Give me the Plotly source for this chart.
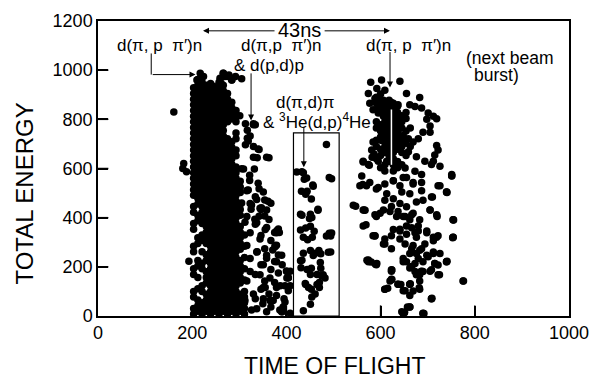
import plotly.graph_objects as go

# ---------------- data ----------------
# dense main peak: columns of time-of-flight with energies
core_x = [203, 212, 221, 230, 239, 248, 257, 266, 275, 284, 293, 302, 311]
core_y = [
    [8,31,77,100,169,192,261,284,353,376,422,445,491,514,537,560,583,606,629,652,675,698,721,744,767,790,813,836,859,882,905,928],
    [19,42,65,111,157,203,226,295,318,387,410,456,479,502,525,548,571,594,617,640,663,686,709,732,755,778,801,824,847,870,893,916,939,962],
    [8,31,54,100,123,192,215,261,307,330,376,399,422,445,468,491,514,537,560,583,606,629,652,675,698,721,744,767,790,813,836,859,882,905,928,951,974],
    [19,42,65,88,134,157,180,226,249,295,318,341,364,387,410,433,456,479,502,525,548,571,594,617,640,663,686,709,732,755,778,801,824,847,870,893,916,939],
    [8,31,54,77,100,123,146,169,192,215,238,261,284,307,330,353,376,399,422,445,468,491,514,537,560,583,606,629,652,675,698,721,744,767,790,813,836,859,882,905,928,946],
    [19,42,65,88,111,134,157,180,203,226,249,272,295,318,341,364,387,410,433,456,479,502,525,548,571,594,617,640,663,686,709,732,755,778,801,824,847,870,893,916],
    [8,31,54,77,100,123,146,169,192,215,238,261,284,307,330,353,376,399,422,445,468,491,514,537,560,583,606,629,652,675,698,721,744,767,790,813,836,859,882,905,928,951],
    [19,42,65,88,111,134,157,180,203,226,249,272,295,318,341,364,387,410,433,456,479,502,525,548,571,594,617,640,663,686,709,732,755,778,801,824,847,870,893,916,939,987],
    [8,31,54,77,100,123,146,169,192,215,238,261,284,307,330,353,376,399,422,445,468,491,514,537,560,583,606,629,652,675,698,721,790,813,836,859,882,905,974],
    [19,42,65,88,111,134,157,180,203,226,249,272,295,318,341,364,387,410,433,456,479,502,525,548,571,594,617,640,663,686,709,801,824,847,870,960],
    [8,31,54,77,100,123,146,169,192,215,238,261,284,307,330,353,376,399,422,445,468,491,514,537,560,583,606,652,675,721,744,790,813,836],
    [19,42,65,88,134,157,180,203,226,272,295,318,341,364,410,433,456,502,525,548],
    [8,31,54,77,100,146,192,238,284,330],
]

# scattered events around the main peak
peak_tof = [161,182,180,188,193,217,210,224,216,245,261,266,259,269,278,284,292,305,
            301,313,330,334,317,317,313,330,342,363,338,309,332,322,342,317,334,354,367,326,
            346,342,363,334,358,375,385,346,367,379,354,371,338,383,358,375,391,346,367,383,
            408,404,334,354,375,387,408,346,363,379,395,334,350,367,391,408,326,
            319,340,358,330,305,322,340,294,319,337,361,305,325,347,354,333,312,380,
            383,376,400,404,397,397,386,365,351,330,323,
            316,351,323,344,358,316,337,355,379,323,344,376,316,337,358,390,323,351,379,401,
            323,344,365,401,316,355,379,404,330,351,372,393,337,358,390,312]
peak_energy = [830,620,600,587,223,987,960,974,961,935,948,987,967,974,980,960,974,965,
               815,782,782,778,756,723,697,690,677,644,644,598,598,551,518,512,485,472,459,452,
               433,406,393,373,360,340,340,327,307,288,274,268,261,248,235,222,208,208,189,175,
               182,156,169,142,136,123,123,109,90,83,70,70,50,37,17,11,24,
               712,679,646,646,599,573,540,540,513,474,467,460,434,440,407,394,381,348,
               354,282,183,156,123,57,24,63,116,778,732,
               510,504,458,438,431,405,379,352,339,339,313,287,287,260,247,247,234,208,221,181,
               181,168,155,155,142,116,116,103,89,70,63,37,30,17,17,63]

# events inside the marked window
win_tof = [485,422,436,438,491,456,444,432,430,451,467,454,430,441,451,459,436,455,445,491,485,
           451,461,436,472,489,430,431,444,451,465,475,440,447,470,470,454,451,436,
           433,443,457,441,453,467,433,449,433,469,457,473,453,473,478,482,465,441,453,461,496,496,494,494]
win_energy = [698,586,583,556,563,533,507,507,414,414,434,401,350,358,365,345,320,320,310,337,325,
              266,255,255,218,259,225,196,189,169,169,163,132,116,136,116,77,48,21,
              587,561,528,495,476,430,410,397,227,266,246,253,194,194,168,155,128,128,109,89,558,338,325,260]

# next beam burst: dense part (columns) and scattered events
burst_x = [591, 600, 609, 618, 627, 636, 645, 654, 663]
burst_y = [
    [640,690,715,765,790,840,865,890],
    [603,653,678,728,753,778,828,853,878,903],
    [590,615,665,690,715,740,765,790,815,840,865],
    [628,653,678,703,728,753,778,803,828,853,878],
    [590,615,640,665,690,715,740,765,790,815,840,865],
    [603,628,678,703,728,753,778,803,828,853],
    [615,665,690,715,765,790,815],
    [653,703,753,803,828],
    [690,765],
]
burst_tof = [579,602,641,592,609,574,655,683,588,606,623,637,662,673,687,701,712,719,698,705,
             577,584,595,606,616,627,637,648,659,669,680,690,705,719,722,715,712,708,694,676,
             659,641,620,602,584,581,563,574,595,613,634,652,673,687,751,726,560,556,577,591,
             609,627,641,655,669,687,722,740,710,542,563,588,606,623,637,652,666,683,705,720,
             754,563,584,606,623,641,655,673,680,698,712,722,754,641,652,666,676,687,698,712,
             740,574,592,623,648,662,673,676,687,705,715,683,620,637,662,652,609,708,775,645,
             662,690,570,565,588,609,609,623,574,591,623,648,655,666,673,683,690,708,722,715,
             740,726,712,694,719,712,698,705,719,754,754,726,740,708,751,623,609,637,648,662,
             662,683,708,662,648,690,595,613,627,641,655,669,662,648,634,620,599,591,666,680,
             676,655,641,627,669,683,662,680,690,701,627,648,669,687,690,676,662,645,609,
             547,569,567,562,563,576,571,580,589,588,582,586,615,624,624,643,663,669,682,686,
             657,651,692,709,776,755,753,751,741,741,725,722]
burst_energy = [951,960,955,925,918,905,905,889,885,878,868,859,859,852,846,826,813,802,800,773,
                865,839,826,813,793,773,754,734,721,708,721,747,747,694,675,655,629,616,629,648,
                668,681,701,714,708,675,629,616,629,629,616,602,589,576,576,609,569,530,543,517,
                537,550,530,563,543,543,530,504,484,451,431,412,431,445,425,405,412,392,431,405,
                392,366,326,293,326,353,366,339,366,346,320,326,320,313,293,274,254,274,247,254,
                221,228,214,182,221,195,214,168,182,182,214,142,142,129,129,103,109,70,142,17,
                37,11,530,431,326,313,293,274,221,208,188,234,221,201,181,168,181,188,168,214,
                221,254,260,293,320,306,339,431,412,392,320,530,504,484,569,149,109,129,103,129,
                83,109,70,37,10,10,523,497,477,458,444,418,392,405,405,425,418,405,359,346,
                320,333,346,352,287,267,254,234,221,241,550,563,537,510,471,464,497,504,471,
                446,371,430,535,626,613,227,220,211,325,646,659,113,148,187,128,131,102,115,181,
                37,14,10,72,142,391,318,571,502,223,168,207]

x_ticks = [0, 200, 400, 600, 800, 1000]
y_ticks = [0, 200, 400, 600, 800, 1000, 1200]

# ---------------- assemble ----------------
xs, ys = [], []
for cx, col in zip(core_x, core_y):
    xs += [cx] * len(col)
    ys += col
xs += peak_tof; ys += peak_energy
xs += win_tof; ys += win_energy
for cx, col in zip(burst_x, burst_y):
    xs += [cx] * len(col)
    ys += col
xs += burst_tof; ys += burst_energy

FONT = "Liberation Sans"
fig = go.Figure()
fig.add_trace(go.Scatter(x=xs, y=ys, mode="markers",
                         marker=dict(color="black", size=7.5, line=dict(width=0)),
                         hoverinfo="skip", showlegend=False))

axis_common = dict(showgrid=False, zeroline=False, showline=True, linecolor="black",
                   linewidth=1.5, mirror=True, ticks="inside", ticklen=10, tickwidth=1.5,
                   tickcolor="black",
                   tickfont=dict(family=FONT, size=18, color="black"))
fig.update_xaxes(range=[0, 1000], tickvals=x_ticks, **axis_common)
fig.update_yaxes(range=[0, 1200], tickvals=y_ticks, **axis_common)

shapes = [
    # analysis window
    dict(type="rect", x0=415, x1=512, y0=0, y1=745, line=dict(color="black", width=1.2)),
    # vertical part of first label arrow
    dict(type="line", x0=113, x1=113, y0=1068, y1=982, line=dict(color="black", width=1)),
    # white arrow line through the next burst
    dict(type="line", x0=623, x1=623, y0=615, y1=840, layer="above",
         line=dict(color="white", width=1.5)),
]
# inward tick marks drawn on top of the points
for t in x_ticks[1:-1]:
    shapes.append(dict(type="line", xref="x", yref="paper", x0=t, x1=t, y0=0, y1=0.036,
                       layer="above", line=dict(color="black", width=1.5)))
for t in y_ticks[1:-1]:
    shapes.append(dict(type="line", xref="paper", yref="y", x0=0, x1=0.022, y0=t, y1=t,
                       layer="above", line=dict(color="black", width=1.5)))
fig.update_layout(shapes=shapes)

def label(x, y, text, size=17, xanchor="center"):
    fig.add_annotation(x=x, y=y, text=text, showarrow=False, xanchor=xanchor,
                       yanchor="middle", font=dict(family=FONT, size=size, color="black"))

def arrow(x0, y0, x1, y1):
    fig.add_annotation(x=x1, y=y1, ax=x0, ay=y0, axref="x", ayref="y", xref="x", yref="y",
                       text="", showarrow=True, arrowhead=2, arrowsize=1.2, arrowwidth=1,
                       arrowcolor="black")

label(131, 1100, "d(π, p\u00a0\u00a0π′)n")
arrow(113, 982, 207, 982)
label(428, 1163, "43ns", size=20)
arrow(378, 1160, 223, 1160)
arrow(478, 1160, 620, 1160)
label(390, 1100, "d(π,p\u00a0\u00a0π′)n")
label(362, 1020, "& d(p,d)p")
arrow(325, 993, 325, 795)
label(440, 868, "d(π,d)π")
label(466, 795, "& <sup>3</sup>He(d,p)<sup>4</sup>He")
arrow(437, 775, 437, 605)
label(660, 1100, "d(π, p\u00a0\u00a0π′)n")
arrow(620, 1080, 620, 930)
label(778, 1050, "(next beam", size=17.5, xanchor="left")
label(794, 982, "burst)", size=17.5, xanchor="left")

# axis titles
fig.add_annotation(xref="paper", yref="paper", x=-0.155, y=0.415, text="TOTAL ENERGY",
                   textangle=-90, showarrow=False, xanchor="center", yanchor="middle",
                   font=dict(family=FONT, size=24, color="black"))
fig.add_annotation(xref="paper", yref="paper", x=0.503, y=-0.168, text="TIME OF FLIGHT",
                   showarrow=False, xanchor="center", yanchor="middle",
                   font=dict(family=FONT, size=23, color="black"))

fig.update_layout(width=610, height=379, margin=dict(l=98, r=41, t=11, b=63),
                  paper_bgcolor="white", plot_bgcolor="white")
fig.write_html("out.html")
